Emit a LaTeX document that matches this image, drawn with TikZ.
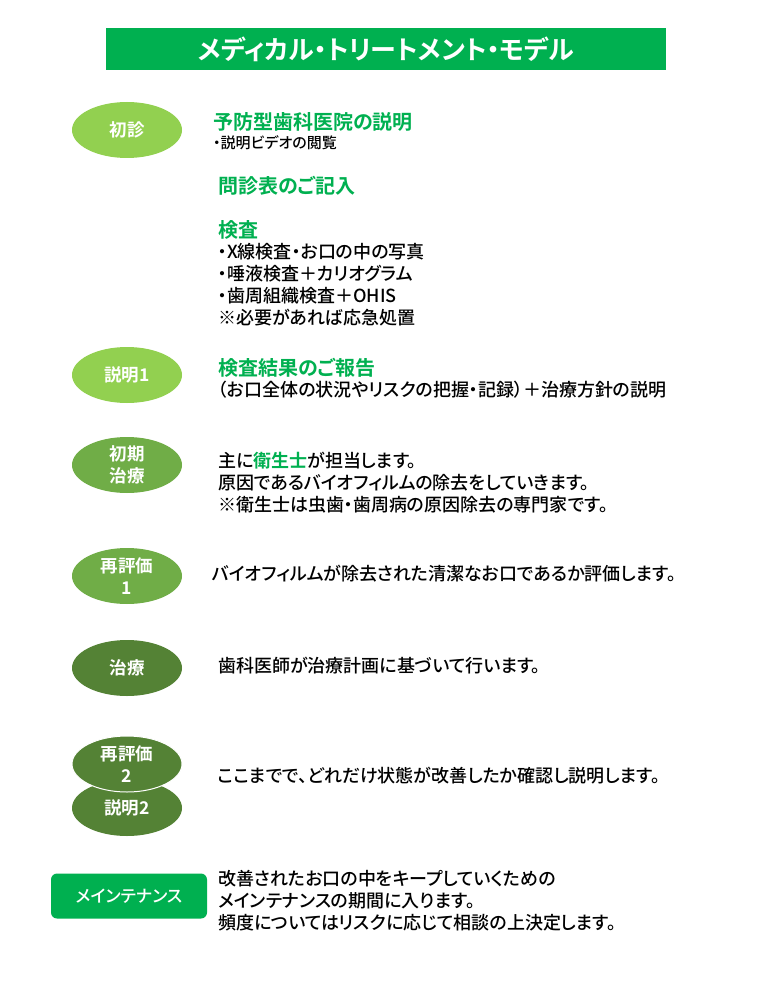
\documentclass[tikz,border=0pt]{standalone}
\usepackage{fontspec}
\setmainfont{Noto Sans CJK JP}[UprightFont={* Medium}, BoldFont={* Bold}, RawFeature=+palt]
\usetikzlibrary{shapes.geometric,positioning}
\definecolor{titlegreen}{HTML}{00B050}
\definecolor{lightgreen}{HTML}{92D050}
\definecolor{midgreen}{HTML}{70AD47}
\definecolor{darkgreen}{HTML}{548235}
\begin{document}
\begin{tikzpicture}
        [x = 1pt, y = -1pt,
            step node/.style = {ellipse, minimum width=110pt, minimum height=56pt, inner sep=0pt,
                text=white, align=center, font=\fontsize{17.5}{22}\selectfont\bfseries},
            head text/.style = {anchor=west, inner sep=0pt, text=titlegreen,
                font=\fontsize{20}{24}\selectfont\bfseries},
            body text/.style = {anchor=west, inner sep=0pt, align=left,
                font=\fontsize{18}{22}\selectfont}]

        \useasboundingbox (0,0) rectangle (756,1008);

        % title bar
        \node[fill=titlegreen, minimum width=560pt, minimum height=42pt, text=white,
            font=\fontsize{26}{30}\selectfont\bfseries] (title) at (386,49) {メディカル・トリートメント・モデル};

        % steps
        \node[step node, fill=lightgreen] (first) at (127,130) {初診};
        \node[step node, fill=lightgreen] (expl1) at (127,375) {説明1};
        \node[step node, fill=midgreen] (initial) at (127,465) {初期\\治療};
        \node[step node, fill=midgreen] (reeval1) at (127,576) {再評価\\1};
        \node[step node, fill=darkgreen] (treat) at (127,668) {治療};
        \node[step node, fill=darkgreen] (expl2) at (127,808) {説明2};
        \node[step node, fill=darkgreen, draw=white, line width=1pt] (reeval2) at (127,764) {再評価\\2};
        \node[fill=titlegreen, rounded corners=6pt, minimum width=156pt, minimum height=45pt,
            text=white, font=\fontsize{17}{20}\selectfont] (maint) at (129,896) {メインテナンス};

        % descriptions
        \node[head text] (prevent) at (213,122) {予防型歯科医院の説明};
        \node[body text, font=\fontsize{15}{18}\selectfont] (video) at (213,143) {・説明ビデオの閲覧};
        \node[head text] (form) at (218,186) {問診表のご記入};
        \node[head text] (exam) at (218,230) {検査};
        \node[body text] (examlist) at (218,285) {・X線検査・お口の中の写真\\・唾液検査＋カリオグラム\\・歯周組織検査＋OHIS\\※必要があれば応急処置};
        \node[head text] (report) at (218,368) {検査結果のご報告};
        \node[body text] (reportline) at (218,390) {（お口全体の状況やリスクの把握・記録）＋治療方針の説明};
        \node[body text] (hygiene) at (218,483) {主に{\color{titlegreen}\bfseries 衛生士}が担当します。\\原因であるバイオフィルムの除去をしていきます。\\※衛生士は虫歯・歯周病の原因除去の専門家です。};
        \node[body text] (recheck) at (212,574) {バイオフィルムが除去された清潔なお口であるか評価します。};
        \node[body text] (dentist) at (218,666) {歯科医師が治療計画に基づいて行います。};
        \node[body text] (confirm) at (218,776) {ここまでで、どれだけ状態が改善したか確認し説明します。};
        \node[body text] (keep) at (218,901) {改善されたお口の中をキープしていくための\\メインテナンスの期間に入ります。\\頻度についてはリスクに応じて相談の上決定します。};
    \end{tikzpicture}
\end{document}
